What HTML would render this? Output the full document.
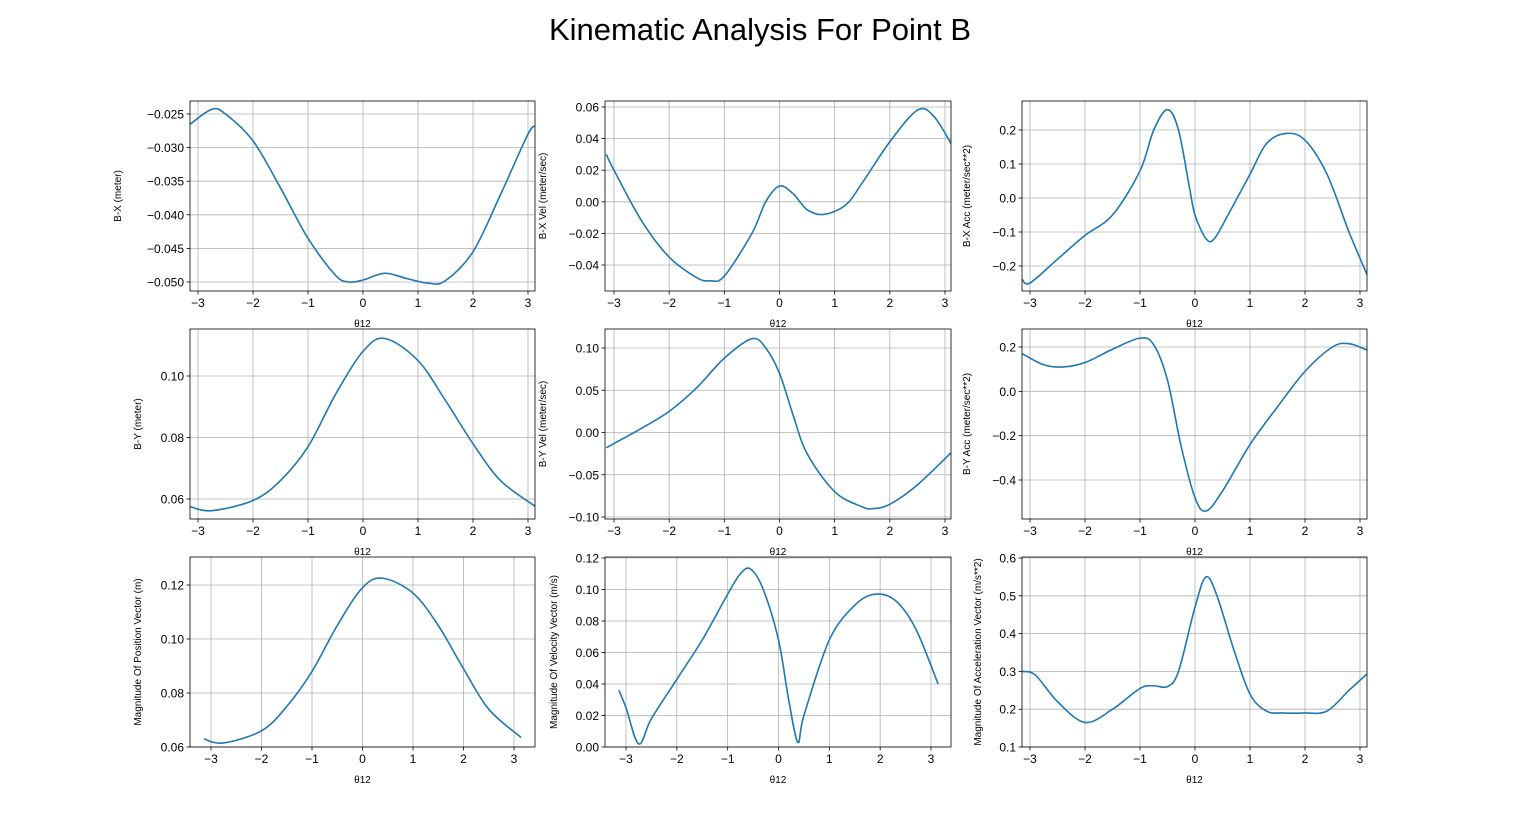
<!DOCTYPE html>
<html><head><meta charset="utf-8"><style>
body{margin:0;background:#fff}
svg{display:block;font-family:"Liberation Sans","DejaVu Sans",sans-serif}
</style></head><body>
<svg id="fig" width="1520" height="840">
<text x="760" y="40" text-anchor="middle" font-size="31">Kinematic Analysis For Point B</text>
</svg>
<script>
const NS='http://www.w3.org/2000/svg';
const xTicks=[-3,-2,-1,0,1,2,3];
// series data (theta12 values and outputs)
const p1x=[-3.14,-2.75,-2.5,-2,-1.5,-1,-0.5,-0.25,0,0.4,0.8,1.2,1.5,2,2.5,3,3.14];
const p1y=[-0.0265,-0.0243,-0.025,-0.029,-0.036,-0.0435,-0.049,-0.05,-0.0497,-0.0487,-0.0495,-0.0502,-0.0498,-0.0455,-0.037,-0.028,-0.0268];
const p2x=[-3.14,-3,-2.5,-2,-1.5,-1.25,-1,-0.5,-0.25,0,0.25,0.5,0.8,1.2,1.5,2,2.5,2.8,3.14];
const p2y=[0.030,0.02,-0.012,-0.035,-0.048,-0.050,-0.047,-0.020,0.000,0.010,0.005,-0.005,-0.008,-0.002,0.012,0.038,0.058,0.054,0.035];
const p3x=[-3.14,-3,-2.5,-2,-1.5,-1,-0.75,-0.5,-0.3,-0.1,0,0.2,0.35,0.6,1,1.3,1.65,2,2.4,2.8,3.14];
const p3y=[-0.24,-0.25,-0.18,-0.11,-0.05,0.08,0.2,0.26,0.20,0.03,-0.05,-0.12,-0.12,-0.05,0.07,0.16,0.19,0.17,0.07,-0.1,-0.23];
const p4x=[-3.14,-2.75,-2,-1.5,-1,-0.5,0,0.4,1,1.5,2,2.5,3.14];
const p4y=[0.0575,0.0562,0.0595,0.066,0.077,0.094,0.108,0.1122,0.105,0.092,0.078,0.066,0.0575];
const p5x=[-3.14,-2.5,-2,-1.5,-1,-0.5,-0.25,0,0.25,0.5,1,1.5,1.7,2,2.5,3.14];
const p5y=[-0.018,0.005,0.025,0.053,0.088,0.111,0.10,0.07,0.02,-0.025,-0.07,-0.088,-0.09,-0.085,-0.062,-0.022];
const p6x=[-3.14,-2.75,-2.4,-2,-1.5,-1,-0.75,-0.5,-0.25,0,0.2,0.5,1,1.5,2,2.5,2.8,3.14];
const p6y=[0.17,0.12,0.11,0.13,0.19,0.24,0.21,0.05,-0.25,-0.48,-0.54,-0.45,-0.24,-0.07,0.09,0.2,0.215,0.185];
const p7x=[-3.14,-2.75,-2,-1.5,-1,-0.5,0,0.4,1,1.5,2,2.5,3.14];
const p7y=[0.063,0.0615,0.066,0.075,0.088,0.105,0.119,0.1225,0.117,0.105,0.089,0.074,0.0635];
const p8x=[-3.14,-3,-2.75,-2.5,-2,-1.5,-1,-0.75,-0.55,-0.3,0,0.2,0.38,0.5,1,1.5,1.9,2.3,2.7,3.14];
const p8y=[0.036,0.025,0.002,0.018,0.043,0.068,0.097,0.110,0.113,0.100,0.068,0.030,0.003,0.020,0.068,0.090,0.097,0.093,0.075,0.040];
const p9x=[-3.14,-2.9,-2.5,-2,-1.5,-1,-0.75,-0.5,-0.3,0,0.2,0.4,0.7,1,1.3,1.6,2,2.4,2.8,3.14];
const p9y=[0.30,0.29,0.22,0.165,0.20,0.255,0.262,0.26,0.30,0.47,0.55,0.50,0.36,0.24,0.195,0.19,0.19,0.195,0.25,0.295];
const t1=[-0.025,-0.030,-0.035,-0.040,-0.045,-0.050];
const t2=[0.06,0.04,0.02,0.00,-0.02,-0.04];
const t3=[0.2,0.1,0.0,-0.1,-0.2];
const t4=[0.06,0.08,0.10];
const t5=[0.10,0.05,0.00,-0.05,-0.10];
const t6=[0.2,0.0,-0.2,-0.4];
const t7=[0.06,0.08,0.10,0.12];
const t8=[0.00,0.02,0.04,0.06,0.08,0.10,0.12];
const t9=[0.1,0.2,0.3,0.4,0.5,0.6];
const cols=[[190,535],[605,951],[1022,1367]];
const rows=[[101,291],[329,519],[557,747]];
const P=[
 {c:0,r:0,xs:p1x,ys:p1y,t:t1,d:3,xc:[198,528],yc:[-0.025,114,-0.05,282],lab:'B-X (meter)',lx:118,nm:'bx-position'},
 {c:1,r:0,xs:p2x,ys:p2y,t:t2,d:2,xc:[614,945],yc:[0.06,107,-0.04,265],lab:'B-X Vel (meter/sec)',lx:543,nm:'bx-velocity'},
 {c:2,r:0,xs:p3x,ys:p3y,t:t3,d:1,xc:[1030,1360],yc:[0.2,130,-0.2,266],lab:'B-X Acc (meter/sec**2)',lx:967,nm:'bx-acceleration'},
 {c:0,r:1,xs:p4x,ys:p4y,t:t4,d:2,xc:[198,528],yc:[0.10,376,0.06,499],lab:'B-Y (meter)',lx:138,nm:'by-position'},
 {c:1,r:1,xs:p5x,ys:p5y,t:t5,d:2,xc:[614,945],yc:[0.10,348,-0.10,517],lab:'B-Y Vel (meter/sec)',lx:543,nm:'by-velocity'},
 {c:2,r:1,xs:p6x,ys:p6y,t:t6,d:1,xc:[1030,1360],yc:[0.2,347,-0.4,480],lab:'B-Y Acc (meter/sec**2)',lx:967,nm:'by-acceleration'},
 {c:0,r:2,xs:p7x,ys:p7y,t:t7,d:2,xc:[211,514],yc:[0.12,585,0.06,747],lab:'Magnitude Of Position Vector (m)',lx:138,nm:'position-magnitude'},
 {c:1,r:2,xs:p8x,ys:p8y,t:t8,d:2,xc:[626,931],yc:[0.12,558,0.00,747],lab:'Magnitude Of Velocity Vector (m/s)',lx:554,nm:'velocity-magnitude'},
 {c:2,r:2,xs:p9x,ys:p9y,t:t9,d:1,xc:[1030,1360],yc:[0.6,558,0.1,747],lab:'Magnitude Of Acceleration Vector (m/s**2)',lx:978,nm:'acceleration-magnitude'}
];
const fig=document.getElementById('fig');
function mk(tag,at,par){const e=document.createElementNS(NS,tag);for(const k in at)e.setAttribute(k,at[k]);(par||fig).appendChild(e);return e;}
function fmt(v,d){let s=v.toFixed(d);if(v<-1e-9)s='\u2212'+s.slice(1);return s;}
P.forEach(p=>{
 const [x0,x1]=cols[p.c],[y0,y1]=rows[p.r];
 const g=mk('g',{});
 
 
 const sx=v=>p.xc[0]+(v+3)*(p.xc[1]-p.xc[0])/6;
 const sy=v=>p.yc[1]+(v-p.yc[0])*(p.yc[3]-p.yc[1])/(p.yc[2]-p.yc[0]);
 mk('defs',{},g).innerHTML=`<clipPath id="c${p.nm}"><rect x="${x0}" y="${y0}" width="${x1-x0}" height="${y1-y0}"/></clipPath>`;
 xTicks.forEach(t=>{const X=sx(t);
  mk('line',{x1:X,x2:X,y1:y0,y2:y1,stroke:'#b0b0b0','stroke-width':0.8},g);
  mk('line',{x1:X,x2:X,y1:y1,y2:y1+3.5,stroke:'#000','stroke-width':0.8},g);
  const tx=mk('text',{x:X,y:y1+16,'text-anchor':'middle','font-size':12},g);tx.textContent=fmt(t,0);
  
  
 });
 p.t.forEach(t=>{const Y=sy(t);
  mk('line',{x1:x0,x2:x1,y1:Y,y2:Y,stroke:'#b0b0b0','stroke-width':0.8},g);
  mk('line',{x1:x0-3.5,x2:x0,y1:Y,y2:Y,stroke:'#000','stroke-width':0.8},g);
  const tx=mk('text',{x:x0-6,y:Y+4.5,'text-anchor':'end','font-size':12},g);tx.textContent=fmt(t,p.d);
  
  
 });
 const pts=p.xs.map((x,i)=>[sx(x),sy(p.ys[i])]);
 let d='M'+pts[0][0]+','+pts[0][1];
 for(let i=0;i<pts.length-1;i++){const a=pts[Math.max(0,i-1)],b=pts[i],c=pts[i+1],e=pts[Math.min(pts.length-1,i+2)];
  d+=` C${b[0]+(c[0]-a[0])/6},${b[1]+(c[1]-a[1])/6} ${c[0]-(e[0]-b[0])/6},${c[1]-(e[1]-b[1])/6} ${c[0]},${c[1]}`;}
 const ln=mk('path',{d:d,fill:'none',stroke:'#1f77b4','stroke-width':1.6,'clip-path':`url(#c${p.nm})`},g);
 
 
 mk('rect',{x:x0,y:y0,width:x1-x0,height:y1-y0,fill:'none',stroke:'#000','stroke-width':0.8},g);
 const xl=mk('text',{x:(x0+x1)/2,y:y1+36,'text-anchor':'middle','font-size':10},g);xl.textContent='θ12';
 
 
 const cy=(y0+y1)/2;
 const yl=mk('text',{x:p.lx+3,y:cy,'text-anchor':'middle','font-size':10,transform:`rotate(-90 ${p.lx+3} ${cy})`},g);yl.textContent=p.lab;
 
 
});
</script>
</body></html>
